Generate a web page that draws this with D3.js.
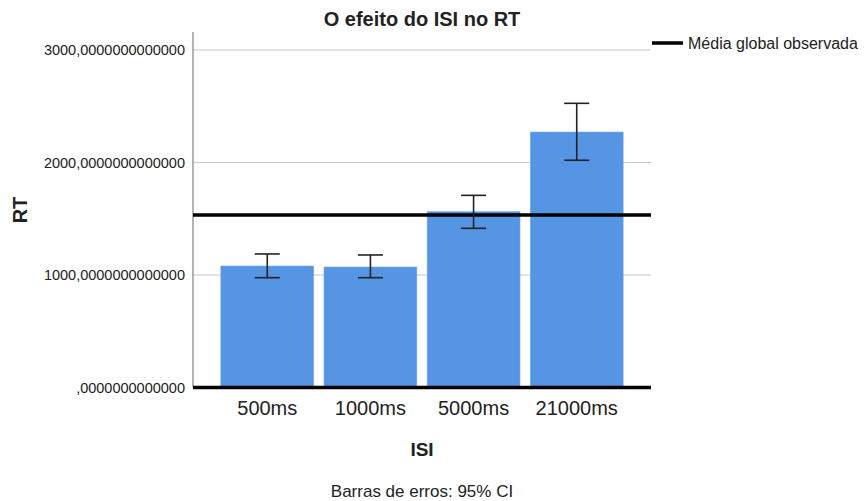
<!DOCTYPE html>
<html>
<head>
<meta charset="utf-8">
<script src="https://cdn.jsdelivr.net/npm/d3@7"></script>
<style>
  body { margin: 0; background: #fff; }
  svg text { font-family: "Liberation Sans", Arial, sans-serif; fill: #222; }
</style>
</head>
<body>
<svg id="chart" width="865" height="501"></svg>
<script>
const categories = ['500ms', '1000ms', '5000ms', '21000ms'];
const means = [1080, 1071, 1563, 2271];
const ciLow = [976, 976, 1415, 2020];
const ciHigh = [1187, 1178, 1708, 2526];
const grandMean = 1533;
const yTicks = [0, 1000, 2000, 3000];
const yTickLabels = [',0000000000000', '1000,0000000000000', '2000,0000000000000', '3000,0000000000000'];

const svg = d3.select('#chart');
const margin = { left: 193, right: 214, top: 32, bottom: 114 };
const width = 865 - margin.left - margin.right;
const plotBottom = 387.5;

const y = d3.scaleLinear()
  .domain([0, 3000])
  .range([plotBottom, 50]);

const x = d3.scaleBand()
  .domain(categories)
  .range([margin.left, margin.left + width])
  .paddingInner(0.1)
  .paddingOuter(0.27);

// gridlines
svg.append('g')
  .selectAll('line')
  .data(yTicks.filter(t => t > 0))
  .enter()
  .append('line')
  .attr('x1', margin.left)
  .attr('x2', margin.left + width)
  .attr('y1', d => y(d))
  .attr('y2', d => y(d))
  .attr('stroke', '#c8c8c8')
  .attr('stroke-width', 1);

// y axis
const yAxis = d3.axisLeft(y)
  .tickValues(yTicks)
  .tickSize(0)
  .tickPadding(8)
  .tickFormat((d, i) => yTickLabels[i]);

const yG = svg.append('g')
  .attr('transform', `translate(${margin.left},0)`)
  .call(yAxis);
yG.select('.domain').remove();
yG.selectAll('text')
  .style('font-size', '14.5px')
  .style('font-family', '"Liberation Sans", Arial, sans-serif')
  .attr('fill', '#222');

svg.append('line')
  .attr('x1', margin.left)
  .attr('x2', margin.left)
  .attr('y1', margin.top)
  .attr('y2', plotBottom)
  .attr('stroke', '#9a9a9a')
  .attr('stroke-width', 1.5);

// bars
svg.append('g')
  .selectAll('rect')
  .data(means)
  .enter()
  .append('rect')
  .attr('x', (d, i) => x(categories[i]))
  .attr('width', x.bandwidth())
  .attr('y', d => y(d))
  .attr('height', d => plotBottom - y(d))
  .attr('fill', '#5595e3')
  .attr('stroke', '#74a9ea')
  .attr('stroke-width', 0.6);

// mean reference line
svg.append('line')
  .attr('x1', margin.left)
  .attr('x2', margin.left + width)
  .attr('y1', y(grandMean))
  .attr('y2', y(grandMean))
  .attr('stroke', '#000')
  .attr('stroke-width', 3.5);

// zero line
svg.append('line')
  .attr('x1', margin.left)
  .attr('x2', margin.left + width)
  .attr('y1', y(0))
  .attr('y2', y(0))
  .attr('stroke', '#000')
  .attr('stroke-width', 3.5);

// error bars
const capHalf = 12.5;
const err = svg.append('g')
  .selectAll('g')
  .data(categories)
  .enter()
  .append('g')
  .attr('stroke', '#222')
  .attr('stroke-width', 1.6);

err.append('line')
  .attr('x1', d => x(d) + x.bandwidth() / 2)
  .attr('x2', d => x(d) + x.bandwidth() / 2)
  .attr('y1', (d, i) => y(ciHigh[i]))
  .attr('y2', (d, i) => y(ciLow[i]));
err.append('line')
  .attr('x1', d => x(d) + x.bandwidth() / 2 - capHalf)
  .attr('x2', d => x(d) + x.bandwidth() / 2 + capHalf)
  .attr('y1', (d, i) => y(ciHigh[i]))
  .attr('y2', (d, i) => y(ciHigh[i]));
err.append('line')
  .attr('x1', d => x(d) + x.bandwidth() / 2 - capHalf)
  .attr('x2', d => x(d) + x.bandwidth() / 2 + capHalf)
  .attr('y1', (d, i) => y(ciLow[i]))
  .attr('y2', (d, i) => y(ciLow[i]));

// x axis labels
const xAxis = d3.axisBottom(x).tickSize(0).tickPadding(13);
const xG = svg.append('g')
  .attr('transform', `translate(0,${plotBottom})`)
  .call(xAxis);
xG.select('.domain').remove();
xG.selectAll('text')
  .style('font-size', '20px')
  .style('font-family', '"Liberation Sans", Arial, sans-serif')
  .attr('fill', '#222');

// titles
const cx = margin.left + width / 2;
svg.append('text')
  .attr('x', cx)
  .attr('y', 26)
  .attr('text-anchor', 'middle')
  .style('font-size', '20px')
  .style('font-weight', 'bold')
  .text('O efeito do ISI no RT');

svg.append('text')
  .attr('x', cx)
  .attr('y', 456)
  .attr('text-anchor', 'middle')
  .style('font-size', '19px')
  .style('font-weight', 'bold')
  .text('ISI');

svg.append('text')
  .attr('transform', 'translate(27,210) rotate(-90)')
  .attr('text-anchor', 'middle')
  .style('font-size', '20px')
  .style('font-weight', 'bold')
  .text('RT');

svg.append('text')
  .attr('x', cx)
  .attr('y', 497)
  .attr('text-anchor', 'middle')
  .style('font-size', '17px')
  .text('Barras de erros: 95% CI');

// legend
svg.append('line')
  .attr('x1', 652)
  .attr('x2', 683)
  .attr('y1', 43)
  .attr('y2', 43)
  .attr('stroke', '#000')
  .attr('stroke-width', 3.5);
svg.append('text')
  .attr('x', 688)
  .attr('y', 49)
  .style('font-size', '16px')
  .text('Média global observada');
</script>
</body>
</html>
